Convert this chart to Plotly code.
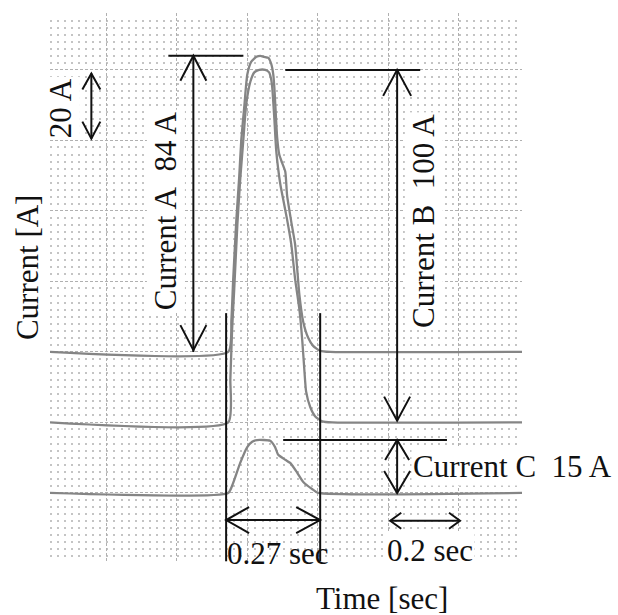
import plotly.graph_objects as go

# ---- values (time in s, current in A above each trace's own baseline) ----
time_A = [0.04, 0.546, 0.555, 0.560, 0.569, 0.577, 0.583, 0.592, 0.600, 0.611, 0.626, 0.637, 0.648,
          0.660, 0.668, 0.674, 0.677, 0.685, 0.691, 0.699, 0.708, 0.713, 0.725, 0.736, 0.742, 0.748,
          0.759, 0.773, 0.787, 0.807, 0.835, 1.38]
current_A = [0, 0, 9.1, 20.4, 37.4, 49.4, 60.1, 70.1, 78.6, 82.3, 83.7, 84.0, 83.7,
             83.4, 81.7, 78.6, 74.9, 60.7, 55.9, 53.6, 51.1, 44.5, 36.9, 30.4, 23.3, 16.2,
             8.5, 4.0, 1.7, 0.3, 0, 0]

time_B = [0.04, 0.546, 0.552, 0.557, 0.563, 0.572, 0.580, 0.589, 0.597, 0.609, 0.620, 0.634, 0.651,
          0.662, 0.668, 0.671, 0.677, 0.682, 0.688, 0.694, 0.702, 0.713, 0.725, 0.736, 0.748, 0.756,
          0.762, 0.767, 0.779, 0.793, 0.813, 0.841, 1.38]
current_B = [0, 0, 12.2, 26.4, 37.7, 56.2, 68.9, 80.3, 90.2, 96.7, 99.3, 100, 100,
             99.3, 97.3, 95.0, 86.0, 77.4, 71.8, 67.5, 63.3, 57.6, 50.5, 40.6, 32.1, 23.5,
             15.0, 8.8, 4.3, 1.7, 0.3, 0, 0]

time_C = [0.04, 0.546, 0.560, 0.580, 0.600, 0.614, 0.628, 0.665, 0.679, 0.688, 0.708, 0.722,
          0.742, 0.759, 0.784, 0.801, 1.38]
current_C = [0, 0, 2.8, 8.5, 13.0, 14.5, 15.0, 14.8, 13.0, 10.8, 9.4, 8.5,
             5.7, 3.1, 1.1, 0, 0]

baseline_offsets = {"A": 40, "B": 20, "C": 0}   # trace baselines are stacked one division (20 A) apart
peak_labels = {"A": "Current A\u00a0 84 A", "B": "Current B\u00a0 100 A", "C": "Current C\u00a0 15 A"}
peak_values = {"A": 84, "B": 100, "C": 15}
pulse_start, pulse_end = 0.540, 0.807          # 0.27 sec marker
scale_t0, scale_t1 = 1.006, 1.204              # 0.2 sec scale bar
scale_a0, scale_a1 = 100.5, 119.0              # 20 A scale bar

X_RANGE = [0.04, 1.38]
Y_RANGE = [-19.6, 136.14]
PX_S = 352.5    # pixels per second
PX_A = 3.525    # pixels per ampere

FONT = "Liberation Serif, Times New Roman, serif"
TRACE_COLOR = "#858585"
INK = "#111111"

fig = go.Figure()
for name, tt, cc in (("A", time_A, current_A), ("B", time_B, current_B), ("C", time_C, current_C)):
    off = baseline_offsets[name]
    fig.add_trace(go.Scatter(
        x=tt, y=[v + off for v in cc], mode="lines", name="Current " + name,
        line=dict(color=TRACE_COLOR, width=2.3, shape="spline", smoothing=0.5),
        hoverinfo="skip", showlegend=False))

shapes = []


def seg(x0, y0, x1, y1):
    shapes.append(dict(type="line", xref="x", yref="y", x0=x0, y0=y0, x1=x1, y1=y1,
                       line=dict(color=INK, width=2)))


def vhead(x, y, d, length, half):
    dy = d * length / PX_A
    dx = half / PX_S
    shapes.append(dict(type="path", xref="x", yref="y",
                       path=f"M{x - dx},{y - dy} L{x},{y} L{x + dx},{y - dy}",
                       line=dict(color=INK, width=2)))


def hhead(x, y, d, length, half):
    dx = d * length / PX_S
    dy = half / PX_A
    shapes.append(dict(type="path", xref="x", yref="y",
                       path=f"M{x - dx},{y - dy} L{x},{y} L{x - dx},{y + dy}",
                       line=dict(color=INK, width=2)))


yA0, yA1 = baseline_offsets["A"], baseline_offsets["A"] + peak_values["A"]
yB0, yB1 = baseline_offsets["B"], baseline_offsets["B"] + peak_values["B"]
yC0, yC1 = baseline_offsets["C"], baseline_offsets["C"] + peak_values["C"]

# Current A
xa = 0.447
seg(0.376, yA1, 0.589, yA1)
seg(xa, yA0, xa, yA1)
vhead(xa, yA1, 1, 25, 13)
vhead(xa, yA0 + 0.5, -1, 25, 13)
# Current B
xb = 1.0255
seg(0.708, yB1, 1.091, yB1)
seg(xb, yB0 + 0.5, xb, yB1)
vhead(xb, yB1, 1, 26, 14)
vhead(xb, yB0 + 0.5, -1, 24, 13)
# Current C
seg(0.702, yC1, 1.167, yC1)
seg(xb, yC0, xb, yC1)
vhead(xb, yC1, 1, 20, 12)
vhead(xb, yC0, -1, 22, 13)
# 20 A scale
xs = 0.1574
seg(xs, scale_a0, xs, scale_a1)
vhead(xs, scale_a1, 1, 16, 9)
vhead(xs, scale_a0, -1, 17, 9)
# pulse duration
seg(pulse_start, 51.0, pulse_start, -19.4)
seg(pulse_end, 51.0, pulse_end, -19.4)
yd = -7.7
seg(pulse_start, yd, pulse_end, yd)
hhead(pulse_start, yd, -1, 23, 13)
hhead(pulse_end, yd, 1, 24, 13)
# 0.2 sec scale
ys = -7.9
seg(scale_t0, ys, scale_t1, ys)
hhead(scale_t0, ys, -1, 11, 8)
hhead(scale_t1, ys, 1, 11, 8)

annotations = [
    dict(x=0.0723, y=109.2, text="20 A", textangle=-90, bgcolor="white"),
    dict(x=0.3702, y=80.0, text=peak_labels["A"], textangle=-90, bgcolor="white"),
    dict(x=1.1021, y=77.2, text=peak_labels["B"], textangle=-90, bgcolor="white"),
    dict(x=1.0640, y=7.4, text=peak_labels["C"], xanchor="left", bgcolor="white"),
    dict(x=0.688, y=-17.3, text="0.27 sec"),
    dict(x=1.119, y=-16.4, text="0.2 sec", bgcolor="white"),
]
for a in annotations:
    a.update(xref="x", yref="y", showarrow=False, borderpad=1,
             font=dict(family=FONT, size=31, color=INK))
annotations += [
    dict(xref="paper", yref="paper", x=-0.049, y=0.537, text="Current [A]", textangle=-90,
         xanchor="center", yanchor="middle",
         showarrow=False, font=dict(family=FONT, size=31, color=INK)),
    dict(xref="paper", yref="paper", x=0.703, y=-0.066, text="Time [sec]",
         xanchor="center", yanchor="middle",
         showarrow=False, font=dict(family=FONT, size=31, color=INK)),
]

fig.update_layout(
    width=618, height=615,
    margin=dict(l=49.6, r=96.05, t=13, b=53, pad=0),
    paper_bgcolor="white", plot_bgcolor="white",
    shapes=shapes, annotations=annotations,
    xaxis=dict(range=X_RANGE, showticklabels=False, ticks="", zeroline=False, showline=False,
               tick0=0, dtick=0.2, showgrid=True, gridcolor="#b0b0b0", gridwidth=1,
               griddash="3px,2px"),
    yaxis=dict(range=Y_RANGE, showticklabels=False, ticks="", zeroline=False, showline=False,
               tick0=0, dtick=20, showgrid=True, gridcolor="#b0b0b0", gridwidth=1,
               griddash="3px,2px",
               minor=dict(dtick=2, showgrid=True, gridcolor="#c4c4c4", gridwidth=2,
                          griddash="2px,5.05px")),
)

fig.write_html("out.html", config={"displayModeBar": False, "staticPlot": True},
               post_script="document.body.style.margin='0';document.body.style.overflow='hidden';")
